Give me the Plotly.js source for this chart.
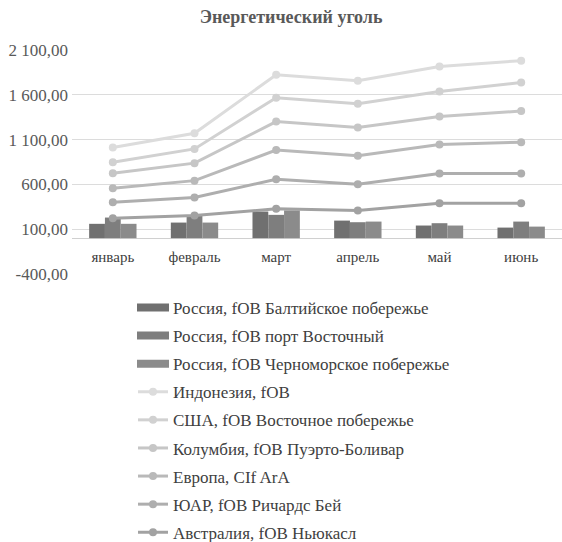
<!DOCTYPE html>
<html><head><meta charset="utf-8">
<script src="https://cdn.plot.ly/plotly-3.0.1.min.js"></script>
<style>html,body{margin:0;padding:0;background:#fff;width:562px;height:542px;overflow:hidden}#chart{width:562px;height:560px}</style>
</head><body><div id="chart"></div>
<script>
// categories
const months = ['январь', 'февраль', 'март', 'апрель', 'май', 'июнь'];
// bar series (clustered)
const rusBaltic = [160, 174, 297, 196, 141, 118];
const rusVostochny = [230, 249, 260, 178, 167, 185];
const rusBlackSea = [160, 174, 310, 185, 141, 129];
// line series (stacked: Australia at bottom, Indonesia on top)
const australia = [223, 252, 327, 308, 390, 390];
const southAfrica = [179, 201, 331, 294, 331, 331];
const europe = [156, 189, 326, 319, 323, 350];
const colombia = [167, 195, 317, 313, 314, 348];
const usa = [123, 159, 267, 267, 279, 317];
const indonesia = [163, 175, 255, 257, 278, 245];
// y tick labels
const yTickVals = [-400, 100, 600, 1100, 1600, 2100];
const yTickText = ['-400,00', '100,00', '600,00', '1 100,00', '1 600,00', '2 100,00'];

const serif = '"Liberation Serif", "Times New Roman", serif';

function bar(name, y, color, rank) {
  return {type: 'bar', name: name, x: months, y: y, marker: {color: color},
    legendrank: rank, legendgroup: 'g' + rank, hoverinfo: 'skip'};
}
function line(name, y, color, rank) {
  return {type: 'scatter', mode: 'lines+markers', name: name, x: months, y: y,
    stackgroup: 'coal', fill: 'none',
    line: {color: color, width: 3}, marker: {color: color, size: 8},
    legendrank: rank, legendgroup: 'g' + rank, hoverinfo: 'skip'};
}

const data = [
  bar('Россия, fOB Балтийское побережье', rusBaltic, '#707070', 1),
  bar('Россия, fOB порт Восточный', rusVostochny, '#7e7e7e', 2),
  bar('Россия, fOB Черноморское побережье', rusBlackSea, '#8b8b8b', 3),
  line('Австралия, fOB Ньюкасл', australia, '#a2a2a2', 9),
  line('ЮАР, fOB Ричардс Бей', southAfrica, '#aeaeae', 8),
  line('Европа, CIf ArA', europe, '#b9b9b9', 7),
  line('Колумбия, fOB Пуэрто-Боливар', colombia, '#c6c6c6', 6),
  line('США, fOB Восточное побережье', usa, '#d1d1d1', 5),
  line('Индонезия, fOB', indonesia, '#dcdcdc', 4)
];

const layout = {
  width: 562, height: 560,
  paper_bgcolor: '#fff', plot_bgcolor: '#fff',
  margin: {l: 72, r: 0, t: 50, b: 286, pad: 0},
  font: {family: serif, size: 14, color: '#595959'},
  title: {text: '<b>Энергетический уголь</b>', font: {family: serif, size: 18, color: '#595959'},
    xref: 'container', x: 0.518, xanchor: 'center', yref: 'container', y: 0.9696, yanchor: 'middle'},
  barmode: 'group', bargap: 0.42, bargroupgap: 0,
  showlegend: true,
  legend: {xref: 'paper', yref: 'paper', x: 0.1245, y: -0.071, xanchor: 'left', yanchor: 'top',
    traceorder: 'grouped', tracegroupgap: 3, itemwidth: 30,
    font: {family: serif, size: 17, color: '#404040'}, bgcolor: 'rgba(0,0,0,0)'},
  xaxis: {type: 'category', anchor: 'free', position: 0.16, showgrid: false, showline: false,
    zeroline: false, ticks: 'outside', ticklen: 5, tickcolor: 'rgba(0,0,0,0)', tickangle: 0,
    tickfont: {family: serif, size: 15, color: '#404040'}, automargin: false, fixedrange: true},
  yaxis: {range: [-400, 2100], tickvals: yTickVals, ticktext: yTickText,
    showgrid: true, gridcolor: '#dcdcdc', gridwidth: 1,
    zeroline: true, zerolinecolor: '#d0d0d0', zerolinewidth: 1,
    showline: false, ticks: '', ticklabelstandoff: 3,
    tickfont: {family: serif, size: 17, color: '#595959'}, automargin: false, fixedrange: true}
};

Plotly.newPlot('chart', data, layout, {displayModeBar: false, staticPlot: true}).then(function (gd) {
  // widen the bar legend swatches to match the reference's flat rectangles
  gd.querySelectorAll('.legend .traces .legendpoints path.legendundefined').forEach(function (p) {
    p.setAttribute('d', 'M-16,4H16V-4H-16Z');
  });
});
</script>
</body></html>
